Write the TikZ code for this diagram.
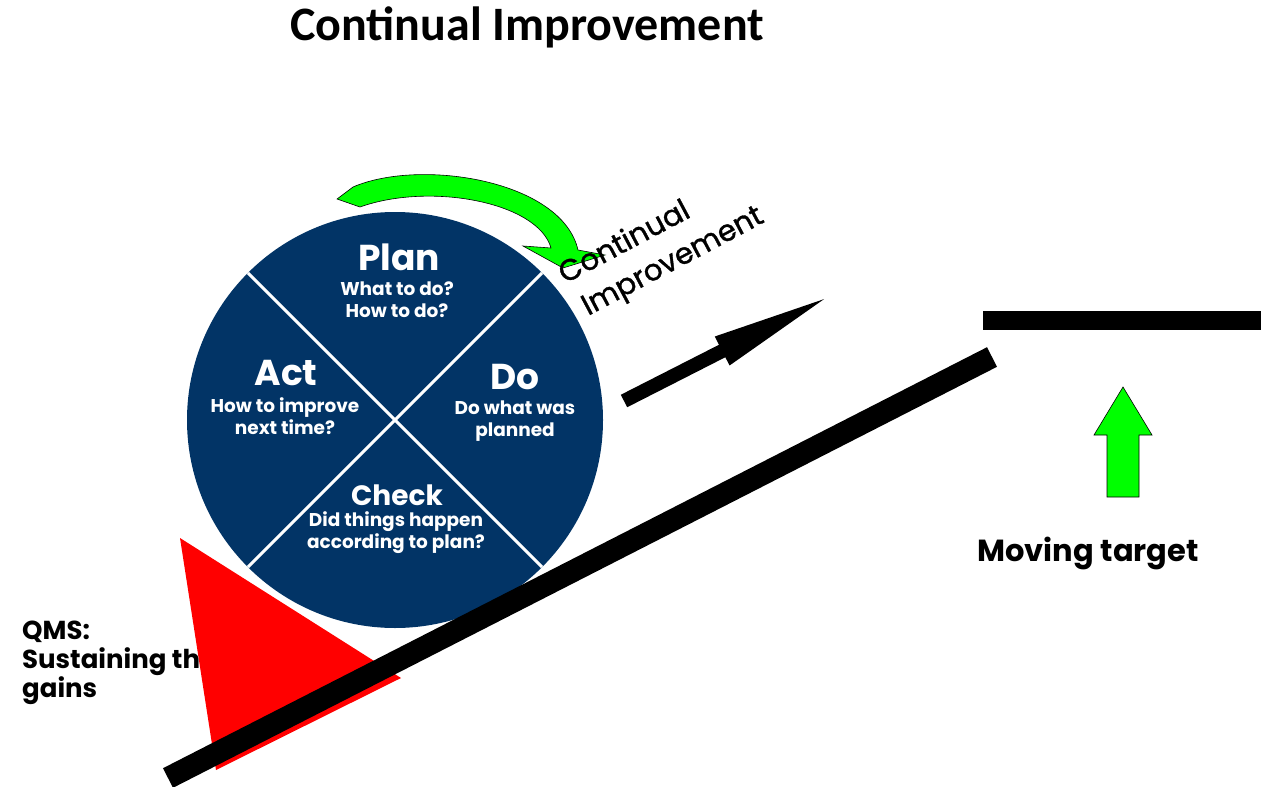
\documentclass[tikz,border=0pt]{standalone}
\usepackage{fontspec}
\setmainfont{Poppins}
\newfontfamily\titlefont{Carlito}
\newfontfamily\slantfont[FakeBold=1.2]{Poppins}
\usetikzlibrary{arrows.meta}
\definecolor{pdcablue}{RGB}{2,52,102}
\definecolor{brightgreen}{RGB}{0,255,0}
\begin{document}
\begin{tikzpicture}[x=1pt,y=-1pt,
		stagehead/.style={text=white,font=\bfseries\fontsize{36}{40}\selectfont},
		stagetext/.style={text=white,align=center,font=\bfseries\fontsize{18.5}{22}\selectfont},
		sidetext/.style={font=\bfseries\fontsize{26}{29}\selectfont,align=left,inner sep=0pt},
		slanted/.style={rotate=28,anchor=base west,inner sep=0pt,font=\slantfont\fontsize{29.5}{30}\selectfont}]
		\useasboundingbox (0,0) rectangle (1261,787);
		\node[anchor=base,font=\titlefont\bfseries\fontsize{48}{50}\selectfont] (title) at (527,40) {Continual Improvement};
		% the wheel
		\node[circle,fill=pdcablue,minimum size=416pt,inner sep=0pt,outer sep=0pt] (pdca) at (395,420) {};
		\draw[white,line width=3pt] (pdca.45) -- (pdca.225);
		\draw[white,line width=3pt] (pdca.135) -- (pdca.315);
		\node[stagehead] (plan) at (399,257) {Plan};
		\node[stagetext] (plantext) at (397,300) {What to do?\\How to do?};
		\node[stagehead] (act) at (286,373) {Act};
		\node[stagetext] (acttext) at (285,416) {How to improve\\next time?};
		\node[stagehead] (do) at (515,377) {Do};
		\node[stagetext] (dotext) at (515,421) {Do what was\\planned};
		\node[stagehead,font=\bfseries\fontsize{28}{32}\selectfont] (check) at (397,495) {Check};
		\node[stagetext] (checktext) at (396,533) {Did things happen\\according to plan?};
		% green curved arrow
		\draw[fill=brightgreen,line width=0.6pt] (337,199) -- (353,187) .. controls (420,158) and (562,180) .. (578,250)
			-- (605,255) -- (563,268) -- (523,246) -- (551,248)
			.. controls (538,202) and (430,182) .. (360,207) -- cycle;
		\node[slanted] (ci1) at (565,284) {Continual};
		\node[slanted] (ci2) at (588,316) {Improvement};
		% moving up
		\draw[line width=14pt,-{Triangle[length=130pt,width=28pt]}] (624,401) -- (838,292);
		\draw[line width=19pt] (983,320.5) -- (1261,320.5);
		\draw[fill=brightgreen,line width=0.6pt] (1107,497) -- (1107,435) -- (1094,435) -- (1123,387)
			-- (1152,435) -- (1139,435) -- (1139,497) -- cycle;
		\node[sidetext,font=\bfseries\fontsize{30.5}{32}\selectfont] (target) at (1088,553) {Moving target};
		\node[sidetext,anchor=north west] (qms) at (22,621) {QMS:\\Sustaining the\\gains};
		\fill[red] (180,538) -- (401,678) -- (216,770) -- cycle;
		\draw[line width=22pt] (168,778) -- (992,357);
	\end{tikzpicture}
\end{document}
